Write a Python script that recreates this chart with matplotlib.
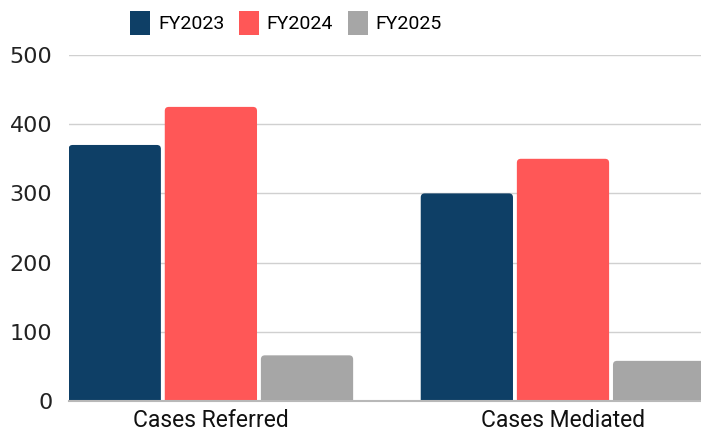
import numpy as np
import matplotlib.pyplot as plt
from matplotlib.patches import FancyBboxPatch

categories = ['Cases Referred', 'Cases Mediated']
series_names = ['FY2023', 'FY2024', 'FY2025']
fy2023 = [370, 300]
fy2024 = [425, 350]
fy2025 = [66, 58]
colors = ['#0E3F66', '#FF5757', '#A6A6A6']
yticks = [0, 100, 200, 300, 400, 500]

W, H = 701, 436
fig = plt.figure(figsize=(W / 100, H / 100), dpi=100)
ax = fig.add_axes([69 / W, 35 / H, 632 / W, 346 / H])

x = np.arange(len(categories))
width = 0.262
step = 0.273
handles = []
for i, (vals, c) in enumerate(zip([fy2023, fy2024, fy2025], colors)):
    bars = ax.bar(x + (i - 1) * step, vals, width, color=c, label=series_names[i])
    handles.append(bars)

ax.set_xlim(-0.403, 1.392)
ax.set_ylim(0, 500)

# rounded tops: swap plain rects for rounded boxes
xpp = (1.392 + 0.403) / 632
ypp = 500 / 346
r = 4 * xpp
for bars in handles:
    for b in bars.patches:
        b.set_visible(False)
        bx, by = b.get_x(), b.get_y()
        bw, bh = b.get_width(), b.get_height()
        p = FancyBboxPatch((bx, by - 10), bw, bh + 10,
                           boxstyle=f'round,pad=0,rounding_size={r}',
                           mutation_aspect=ypp / xpp,
                           fc=b.get_facecolor(), ec='none', zorder=2)
        ax.add_patch(p)

ax.set_yticks(yticks)
ax.set_yticklabels([str(t) for t in yticks], fontsize=16, family='DejaVu Sans', color='#222222')
ax.set_xticks(x)
ax.set_xticklabels(categories, fontsize=16.5, family='Roboto', color='#111111')
ax.tick_params(axis='both', length=0)
ax.tick_params(axis='y', pad=12)
ax.tick_params(axis='x', pad=6)

ax.grid(axis='y', color='#D0D0D0', linewidth=1)
ax.set_axisbelow(True)
for s in ['top', 'right', 'left']:
    ax.spines[s].set_visible(False)
ax.spines['bottom'].set_color('#B8B8B8')
ax.spines['bottom'].set_linewidth(1.5)
ax.spines['bottom'].set_zorder(3)

leg_handles = [plt.Rectangle((0, 0), 1, 1, fc=c) for c in colors]
fig.legend(leg_handles, series_names, loc='center', bbox_to_anchor=(286 / W, 1 - 23 / H),
           ncol=3, frameon=False, handlelength=1.03, handleheight=1.45,
           handletextpad=0.4, columnspacing=0.75,
           prop={'family': 'Roboto', 'size': 14})

fig.savefig('out.png', dpi=100)
